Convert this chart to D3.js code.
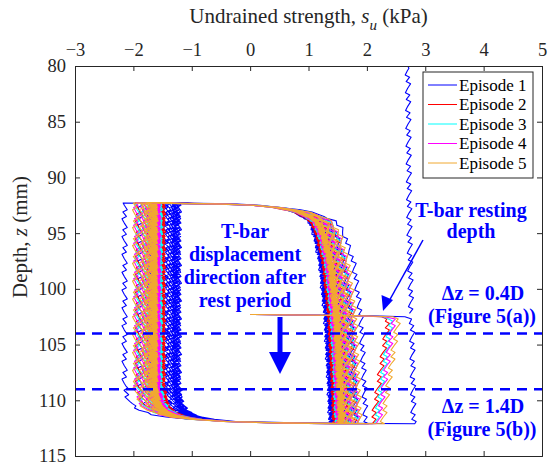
<!DOCTYPE html>
<html>
<head>
<meta charset="utf-8">
<script src="https://cdn.jsdelivr.net/npm/d3@7/dist/d3.min.js"></script>
<style>
  body { margin: 0; background: #fff; }
  svg text { font-family: "Liberation Serif", "Times New Roman", Tinos, "DejaVu Serif", serif; }
</style>
</head>
<body>
<div id="chart"></div>
<script>
// ---- data ----
var episodes = ["Episode 1", "Episode 2", "Episode 3", "Episode 4", "Episode 5"];
var colors = ["#0000ff", "#ff0000", "#00ffff", "#ff00ff", "#f0a830"];

// depths (mm)
var topDepth = 92.3, bottomDepth = 112.1, restDepth = 102.3;
var dashDepths = [104, 109];

// initial penetration (before episode 1)
var initialDepth = [80, 85, 90, 95, 100, 102.3];
var initialSu = [2.70, 2.71, 2.72, 2.73, 2.75, 2.76];

// first penetration after the rest period, su at resting depth / at bottom
var restStartSu = [2.77, 2.38, 2.43, 2.47, 2.55];
var restEndSu = [2.80, 2.10, 2.15, 2.20, 2.27];

// cyclic penetration (pen) and extraction (ext) strengths per cycle, kPa
var pen1 = [1.85, 1.68, 1.58, 1.52, 1.47, 1.43, 1.40, 1.37, 1.35, 1.33, 1.32, 1.31, 1.30, 1.29, 1.28, 1.27, 1.27, 1.26, 1.26, 1.25];
var ext1 = [-2.15, -1.88, -1.72, -1.60, -1.52, -1.46, -1.42, -1.39, -1.36, -1.34, -1.32, -1.30, -1.29, -1.28, -1.27, -1.26, -1.25, -1.24, -1.23, -1.22];
var pen2 = [1.68, 1.58, 1.52, 1.48, 1.45, 1.43, 1.41, 1.39, 1.38, 1.37, 1.36, 1.35, 1.35, 1.34, 1.34, 1.33, 1.33, 1.32, 1.32, 1.32];
var ext2 = [-1.92, -1.80, -1.73, -1.68, -1.65, -1.62, -1.60, -1.58, -1.57, -1.56, -1.55, -1.54, -1.53, -1.52, -1.52, -1.51, -1.51, -1.50, -1.50, -1.49];
var pen3 = [1.70, 1.61, 1.55, 1.51, 1.48, 1.46, 1.44, 1.43, 1.42, 1.41, 1.40, 1.39, 1.39, 1.38, 1.38, 1.37, 1.37, 1.37, 1.36, 1.36];
var ext3 = [-1.93, -1.82, -1.76, -1.72, -1.69, -1.66, -1.64, -1.62, -1.61, -1.60, -1.59, -1.58, -1.57, -1.57, -1.56, -1.56, -1.55, -1.55, -1.54, -1.54];
var pen4 = [1.72, 1.63, 1.57, 1.53, 1.50, 1.48, 1.46, 1.45, 1.44, 1.43, 1.42, 1.41, 1.41, 1.40, 1.40, 1.39, 1.39, 1.39, 1.38, 1.38];
var ext4 = [-1.95, -1.84, -1.78, -1.74, -1.71, -1.68, -1.66, -1.65, -1.64, -1.63, -1.62, -1.61, -1.60, -1.60, -1.59, -1.59, -1.58, -1.58, -1.58, -1.57];
var pen5 = [1.75, 1.66, 1.60, 1.56, 1.53, 1.51, 1.49, 1.48, 1.47, 1.46, 1.45, 1.44, 1.44, 1.43, 1.43, 1.42, 1.42, 1.42, 1.41, 1.41];
var ext5 = [-1.97, -1.87, -1.81, -1.77, -1.74, -1.72, -1.70, -1.69, -1.68, -1.67, -1.66, -1.65, -1.65, -1.64, -1.64, -1.63, -1.63, -1.63, -1.62, -1.62];
var penCycles = [pen1, pen2, pen3, pen4, pen5];
var extCycles = [ext1, ext2, ext3, ext4, ext5];

// slight increase of penetration strength with depth
var trendDepth = [92.3, 96, 100, 104, 108, 112.1];
var penTrend = [0, 0, 0.02, 0.06, 0.10, 0.13];

// reversal shapes: fraction of the change reached at distance dz (mm) after reversal
var topShape = { dz: [0, 0.05, 0.1, 0.2, 0.3, 0.5, 0.8, 1.2, 1.6, 2.2, 3.0, 4.0, 5.5, 7.5, 10],
                 f: [0, 0.25, 0.4, 0.55, 0.63, 0.72, 0.8, 0.86, 0.9, 0.925, 0.945, 0.96, 0.98, 0.99, 1] };
var bottomShape = { dz: [0, 0.05, 0.1, 0.2, 0.3, 0.5, 0.8, 1.2, 1.7, 2.4, 3.4],
                    f: [0, 0.3, 0.45, 0.62, 0.72, 0.83, 0.9, 0.95, 0.975, 0.99, 1] };
var restShape = { dz: [0, 0.1, 0.2, 0.4], f: [0, 0.7, 0.95, 1] };
var flatShape = { dz: [0], f: [1] };

// saw-tooth wiggle of the measured signal, every 0.2 mm
var zig = [0.045, 0.02, -0.005, -0.025, -0.045, 0.03, 0.0, -0.03];
var step = 0.2;

// tick labels
var xTicks = [-3, -2, -1, 0, 1, 2, 3, 4, 5];
var yTicks = [80, 85, 90, 95, 100, 105, 110, 115];

// ---- layout ----
var width = 552, height = 467;
var margin = { left: 75, right: 10, top: 66, bottom: 11 };
var serif = "'Liberation Serif', 'Times New Roman', Tinos, 'DejaVu Serif', serif";

var x = d3.scaleLinear().domain([-3, 5]).range([margin.left, width - margin.right]);
var y = d3.scaleLinear().domain([80, 115]).range([margin.top, height - margin.bottom]);

var svg = d3.select("#chart").append("svg")
  .attr("width", width)
  .attr("height", height)
  .attr("font-family", serif);

svg.append("defs").append("clipPath").attr("id", "plotclip")
  .append("rect")
  .attr("x", x(-3)).attr("y", y(80))
  .attr("width", x(5) - x(-3)).attr("height", y(115) - y(80));

function lookup(xs, ys, v) {
  if (v <= xs[0]) return ys[0];
  for (var i = 1; i < xs.length; i++) {
    if (v <= xs[i]) {
      var t = (v - xs[i - 1]) / (xs[i] - xs[i - 1]);
      return ys[i - 1] + t * (ys[i] - ys[i - 1]);
    }
  }
  return ys[ys.length - 1];
}

// one monotonic push/pull of the T-bar from z0 to z1
function stroke(pts, z0, z1, a, target, shape, phase) {
  var dir = z1 > z0 ? 1 : -1;
  var len = Math.abs(z1 - z0);
  var dzs = shape.dz.filter(function(d) { return d < step; })
    .concat(d3.range(step, len + 1e-6, step));
  dzs.forEach(function(dz) {
    var z = z0 + dir * dz;
    var f = lookup(shape.dz, shape.f, dz);
    var k = Math.round(dz / step);
    var w = dz < step ? 0 : zig[(k + phase) % zig.length];
    pts.push([a + (target(z) - a) * f + w * f, z]);
  });
  return pts[pts.length - 1][0];
}

var line = d3.line()
  .x(function(d) { return x(d[0]); })
  .y(function(d) { return y(d[1]); });

var plot = svg.append("g").attr("clip-path", "url(#plotclip)");

episodes.forEach(function(name, e) {
  var segments = [];
  if (e === 0) {
    var init = [];
    stroke(init, 80, restDepth, 0, function(z) { return lookup(initialDepth, initialSu, z); }, flatShape, 0);
    segments.push(init);
  }
  var pts = [];
  var su = stroke(pts, restDepth, bottomDepth, 0, function(z) {
    return lookup([restDepth, bottomDepth], [restStartSu[e], restEndSu[e]], z);
  }, restShape, e);
  var pen = penCycles[e], ext = extCycles[e];
  for (var c = 0; c < pen.length; c++) {
    var ph = (c * 3 + e) % zig.length;
    su = stroke(pts, bottomDepth, topDepth, su, function() { return ext[c]; }, bottomShape, ph);
    su = stroke(pts, topDepth, bottomDepth, su, function(z) {
      return pen[c] + lookup(trendDepth, penTrend, z);
    }, topShape, ph + 5);
  }
  segments.push(pts);

  plot.selectAll(".ep" + e)
    .data(segments)
    .enter().append("path")
    .attr("class", "ep" + e)
    .attr("d", line)
    .attr("fill", "none")
    .attr("stroke", colors[e])
    .attr("stroke-width", 1.1)
    .attr("stroke-linejoin", "round");
});

// dashed reference lines
svg.selectAll(".dash")
  .data(dashDepths)
  .enter().append("line")
  .attr("class", "dash")
  .attr("x1", x(-3)).attr("x2", x(5))
  .attr("y1", function(d) { return y(d); })
  .attr("y2", function(d) { return y(d); })
  .attr("stroke", "#0000ff")
  .attr("stroke-width", 2.5)
  .attr("stroke-dasharray", "10,7");

// ---- axes ----
var axisColor = "#262626";
svg.append("g")
  .attr("transform", "translate(0," + y(80) + ")")
  .call(d3.axisTop(x).tickValues(xTicks).tickSize(-5).tickPadding(10));
svg.append("g")
  .attr("transform", "translate(0," + y(115) + ")")
  .call(d3.axisBottom(x).tickValues(xTicks).tickSize(-5).tickFormat(""));
svg.append("g")
  .attr("transform", "translate(" + x(-3) + ",0)")
  .call(d3.axisLeft(y).tickValues(yTicks).tickSize(-5).tickPadding(9));
svg.append("g")
  .attr("transform", "translate(" + x(5) + ",0)")
  .call(d3.axisRight(y).tickValues(yTicks).tickSize(-5).tickFormat(""));

svg.selectAll(".domain").attr("stroke", axisColor);
svg.selectAll(".tick line").attr("stroke", axisColor);
svg.selectAll(".tick text")
  .attr("fill", axisColor)
  .attr("font-family", serif)
  .style("font-family", serif)
  .style("font-size", "18.5px");

// axis titles
var xt = svg.append("text")
  .attr("x", (x(-3) + x(5)) / 2).attr("y", 23)
  .attr("text-anchor", "middle")
  .attr("fill", axisColor)
  .style("font-family", serif)
  .style("font-size", "21px");
xt.append("tspan").text("Undrained strength,  ");
xt.append("tspan").style("font-style", "italic").text("s");
xt.append("tspan").style("font-style", "italic").style("font-size", "15px").attr("dy", 7).text("u");
xt.append("tspan").attr("dy", -7).text(" (kPa)");

var yt = svg.append("text")
  .attr("transform", "translate(27,237) rotate(-90)")
  .attr("text-anchor", "middle")
  .attr("fill", axisColor)
  .style("font-family", serif)
  .style("font-size", "21px");
yt.append("tspan").text("Depth,  ");
yt.append("tspan").style("font-style", "italic").text("z");
yt.append("tspan").text(" (mm)");

// ---- legend ----
var legend = svg.append("g");
legend.append("rect")
  .attr("x", 423).attr("y", 72)
  .attr("width", 110).attr("height", 106)
  .attr("fill", "#fff")
  .attr("stroke", axisColor)
  .attr("stroke-width", 1);
var rows = legend.selectAll(".row")
  .data(episodes)
  .enter().append("g")
  .attr("transform", function(d, i) { return "translate(0," + (85 + i * 19.5) + ")"; });
rows.append("line")
  .attr("x1", 428).attr("x2", 457)
  .attr("stroke", function(d, i) { return colors[i]; })
  .attr("stroke-width", 1);
rows.append("text")
  .attr("x", 459).attr("y", 5.5)
  .attr("fill", "#000")
  .style("font-family", serif)
  .style("font-size", "17px")
  .text(function(d) { return d; });

// ---- annotations ----
var blue = "#0000ff";
var note = svg.append("g")
  .attr("fill", blue)
  .style("font-family", serif)
  .style("font-weight", "bold")
  .style("font-size", "20px")
  .attr("text-anchor", "middle");

var mainNote = ["T-bar", "displacement", "direction after", "rest period"];
note.selectAll(".main")
  .data(mainNote)
  .enter().append("text")
  .attr("class", "main")
  .attr("x", 245)
  .attr("y", function(d, i) { return 238 + i * 23; })
  .text(function(d) { return d; });

note.append("text").attr("x", 471).attr("y", 217).text("T-bar resting");
note.append("text").attr("x", 471).attr("y", 238).text("depth");
note.append("text").attr("x", 483).attr("y", 300).text("\u0394z = 0.4D");
note.append("text").attr("x", 482).attr("y", 323).text("(Figure 5(a))");
note.append("text").attr("x", 483).attr("y", 413).text("\u0394z = 1.4D");
note.append("text").attr("x", 482).attr("y", 436).text("(Figure 5(b))");

// big displacement arrow
svg.append("rect")
  .attr("x", 277.5).attr("y", 317)
  .attr("width", 5).attr("height", 38)
  .attr("fill", blue);
svg.append("path")
  .attr("d", "M269,352 L291,352 L280,374 Z")
  .attr("fill", blue);

// resting depth pointer
svg.append("line")
  .attr("x1", 423).attr("y1", 240)
  .attr("x2", 388).attr("y2", 303)
  .attr("stroke", blue)
  .attr("stroke-width", 1.5);
svg.append("path")
  .attr("d", "M383,311 L381.5,295 L393,300 Z")
  .attr("fill", blue);
</script>
</body>
</html>
